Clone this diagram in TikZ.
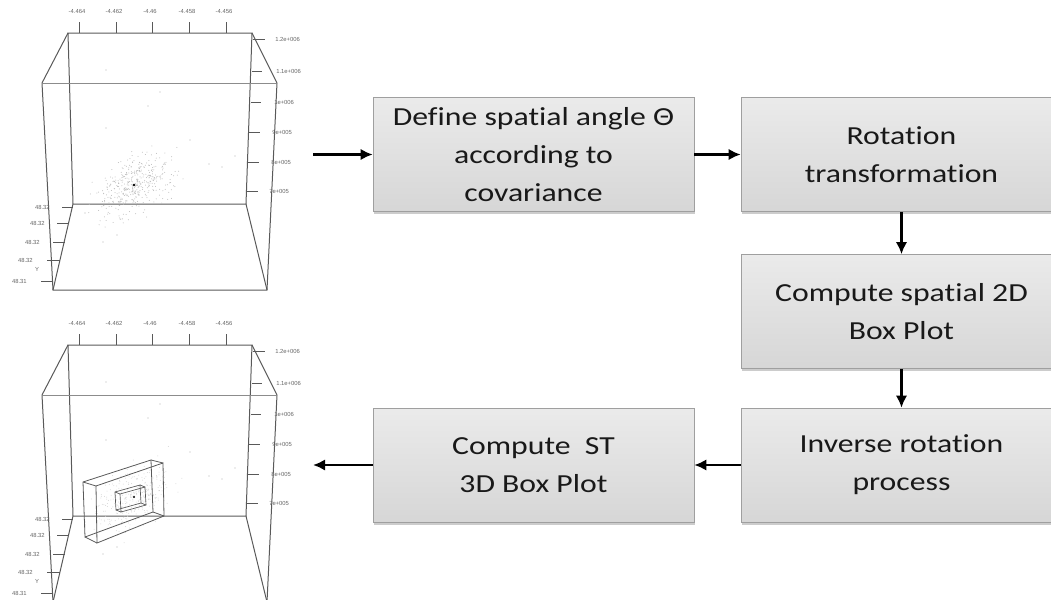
\documentclass[tikz,border=0pt]{standalone}
\usepackage{fontspec}
\setmainfont{Carlito}[FakeStretch=1.22, RawFeature={-liga;-clig;-calt;-dlig}]
\newfontfamily\axisfont{Liberation Sans}
\usetikzlibrary{arrows.meta,shadows}

\begin{document}
\begin{tikzpicture}[x=0.75pt, y=-0.75pt,
  stepbox/.style={draw=gray!75, top color=gray!16, bottom color=gray!32,
    minimum width=240.75pt, minimum height=85.5pt, align=center,
    font=\fontsize{19.5}{28.5}\selectfont, text=black!90,
    drop shadow={shadow xshift=0.8pt, shadow yshift=-2.2pt, opacity=0.4}},
  flow/.style={line width=1.8pt, -{Latex[length=9pt, width=8.5pt]}},
  frame/.style={draw=black!65, line width=0.75pt},
  ticklab/.style={font=\axisfont\fontsize{4.4}{5}\selectfont, text=black!60, inner sep=0pt}]
\useasboundingbox (0,0) rectangle (1051,600);

%% the two 3D plots
\foreach \oy in {0,312}{
  \draw[frame] (68,33+\oy) -- (252,33+\oy) -- (246,204+\oy) -- (73,204+\oy) -- cycle;
  \draw[frame] (42,83+\oy) -- (53,290+\oy) -- (267,290+\oy) -- (277,83+\oy);
  \draw[frame, draw=black!45, line width=0.5pt] (42,83+\oy) -- (277,83+\oy);
  \draw[frame] (68,33+\oy) -- (42,83+\oy);
  \draw[frame] (252,33+\oy) -- (277,83+\oy);
  \draw[frame] (73,204+\oy) -- (53,290+\oy);
  \draw[frame] (246,204+\oy) -- (267,290+\oy);
  % x axis
  \foreach \x/\t in {79/-4.464, 116/-4.462, 152/-4.46, 189/-4.458, 226/-4.456}{
    \draw[frame] (\x,22+\oy) -- (\x,33+\oy);
    \node[ticklab] (xt-\x-\oy) at (\x-2,11+\oy) {\t};
  }
  % z axis
  \foreach \y/\a/\b/\l/\t in {39/253/265/275/1.2e+006, 71/252/262/276/1.1e+006,
      102/251/261/274/1e+006, 132/249/260/272/9e+005, 162/248/259/271/8e+005,
      191/247/258/269/7e+005}{
    \draw[frame] (\a,\y+\oy) -- (\b,\y+\oy);
    \node[ticklab, anchor=west] (zt-\y-\oy) at (\l,\y+\oy) {\t};
  }
  % y axis
  \foreach \y/\a/\b/\l/\t in {207/62/73/50/48.32, 223/57/68/45/48.32,
      242/53/65/40/48.32, 260/47/60/33/48.32, 281/41/53/27/48.31}{
    \draw[frame] (\a,\y+\oy) -- (\b,\y+\oy);
    \node[ticklab, anchor=east] (yt-\y-\oy) at (\l,\y+\oy) {\t};
  }
  \node[ticklab] (ylab-\oy) at (37,269+\oy) {Y};
  % stray points
  \foreach \px/\py in {106/70, 148/106, 106/128, 235/156, 209/164, 222/167,
      103/242, 117/235, 85/213, 160/92, 190/140}{
    \fill[gray!60] (\px,\py+\oy) circle[radius=0.55];
  }
}

%% point clouds
\pgfmathsetseed{4}
\foreach \i in {1,...,420}{
  \pgfmathsetmacro\ra{20*(rand+rand+rand)}
  \pgfmathsetmacro\rb{12*(rand+rand+rand)}
  \fill[gray!55] ({134+0.83*\ra+0.56*\rb},{185-0.56*\ra+0.83*\rb}) circle[radius=0.5];
}
\pgfmathsetseed{9}
\foreach \i in {1,...,320}{
  \pgfmathsetmacro\ra{20*(rand+rand+rand)}
  \pgfmathsetmacro\rb{12*(rand+rand+rand)}
  \fill[gray!32] ({134+0.83*\ra+0.56*\rb},{497-0.56*\ra+0.83*\rb}) circle[radius=0.5];
}
\fill[black] (134,185) circle[radius=1.4];
\fill[black] (134,497) circle[radius=1.2];

%% box plot in the lower picture
\draw[frame, line width=0.6pt] (83,482) -- (151,460) -- (153,512) -- (85,537) -- cycle;
\draw[frame, line width=0.6pt] (96,486) -- (163,463) -- (164,516) -- (97,543) -- cycle;
\draw[frame, line width=0.6pt] (83,482) -- (96,486) (151,460) -- (163,463)
  (153,512) -- (164,516) (85,537) -- (97,543);
\draw[frame, line width=0.5pt] (115,492) -- (140,485) -- (141,503) -- (116,510) -- cycle;
\draw[frame, line width=0.5pt] (120,494) -- (145,487) -- (146,505) -- (121,512) -- cycle;
\draw[frame, line width=0.5pt] (115,492) -- (120,494) (140,485) -- (145,487)
  (141,503) -- (146,505) (116,510) -- (121,512);

%% flow
\node[stepbox] (angle) at (533.5,154.5) {Define spatial angle Θ\\according to\\covariance};
\node[stepbox] (rot) at (901.5,154.5) {Rotation\\transformation};
\node[stepbox] (box2d) at (901.5,311.5) {Compute spatial 2D\\Box Plot};
\node[stepbox] (inv) at (901.5,465) {Inverse rotation\\process};
\node[stepbox] (box3d) at (533.5,465) {Compute\ \ ST\\3D Box Plot};

\coordinate (plotin) at (313,154.5);
\coordinate (plotout) at (313,465);
\draw[flow] (plotin) -- (angle);
\draw[flow] (angle) -- (rot);
\draw[flow] (rot) -- (box2d);
\draw[flow] (box2d) -- (inv);
\draw[flow] (inv) -- (box3d);
\draw[flow] (box3d) -- (plotout);
\end{tikzpicture}
\end{document}
